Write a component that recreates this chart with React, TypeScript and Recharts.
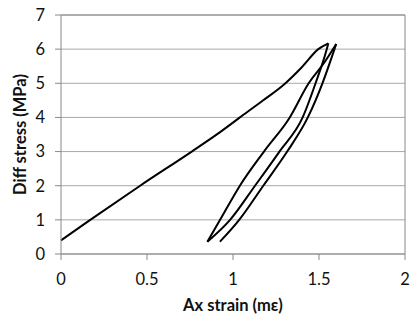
import React from "react"
import { LineChart, Line, XAxis, YAxis, CartesianGrid, ReferenceLine } from "recharts"

// initial loading up to the first peak
const loadStrain = [0, 0.17, 0.46, 0.76, 0.9, 1.04, 1.17, 1.3, 1.4, 1.496, 1.554]
const loadStress = [0.4, 1.0, 2.0, 3.0, 3.48, 4.0, 4.48, 4.98, 5.47, 6.0, 6.17]

// first unloading, peak 1 down to the low point
const unload1Strain = [1.554, 1.545, 1.48, 1.405, 1.27, 1.128, 0.983, 0.851]
const unload1Stress = [6.17, 6.0, 5.0, 4.0, 3.0, 2.0, 1.0, 0.36]

// reloading up to peak 2
const reloadStrain = [0.851, 0.925, 1.04, 1.18, 1.33, 1.44, 1.53, 1.6]
const reloadStress = [0.36, 1.0, 2.0, 3.0, 4.0, 5.0, 5.6, 6.15]

// second unloading
const unload2Strain = [1.6, 1.59, 1.52, 1.435, 1.315, 1.176, 1.036, 0.924]
const unload2Stress = [6.15, 6.0, 5.0, 4.0, 3.0, 2.0, 1.0, 0.36]

const xTicks = [0, 0.5, 1, 1.5, 2]
const yTicks = [0, 1, 2, 3, 4, 5, 6, 7]

const toPoints = (xs: number[], ys: number[]) => xs.map((x, i) => ({ x, y: ys[i] }))

const segments = [
  toPoints(loadStrain, loadStress),
  toPoints(unload1Strain, unload1Stress),
  toPoints(reloadStrain, reloadStress),
  toPoints(unload2Strain, unload2Stress),
]

const font = "Lato, 'Open Sans', sans-serif"

export default function App() {
  return (
    <div style={{ position: "absolute", left: 0, top: 0, background: "#fff" }}>
      <LineChart
        width={414}
        height={321}
        margin={{ top: 15, right: 9, bottom: 0, left: 0 }}
        style={{ fontFamily: font }}
      >
        <CartesianGrid vertical={false} stroke="#a8a8a8" />
        <XAxis
          type="number"
          dataKey="x"
          domain={[0, 2]}
          ticks={xTicks}
          tickFormatter={(v) => String(v)}
          height={67}
          tickSize={6}
          tickMargin={13}
          stroke="#888"
          tick={{ fill: "#111", fontSize: 16.5 }}
          label={{
            value: "Ax strain (mε)",
            position: "insideBottom",
            offset: 10,
            style: { fontWeight: "bold", fontSize: 16.5, fill: "#111" },
          }}
        />
        <YAxis
          type="number"
          dataKey="y"
          domain={[0, 7]}
          ticks={yTicks}
          width={61}
          tickSize={6}
          tickMargin={10}
          stroke="#888"
          tick={{ fill: "#111", fontSize: 16.5 }}
          label={{
            value: "Diff stress (MPa)",
            angle: -90,
            position: "insideLeft",
            offset: 20,
            style: { fontWeight: "bold", fontSize: 16.5, fill: "#111", textAnchor: "middle" },
          }}
        />
        <ReferenceLine x={2} stroke="#888" />
        <ReferenceLine y={7} stroke="#888" />
        {segments.map((seg, i) => (
          <Line
            key={i}
            data={seg}
            dataKey="y"
            type="monotone"
            stroke="#000"
            strokeWidth={2}
            dot={false}
            isAnimationActive={false}
          />
        ))}
      </LineChart>
    </div>
  )
}
